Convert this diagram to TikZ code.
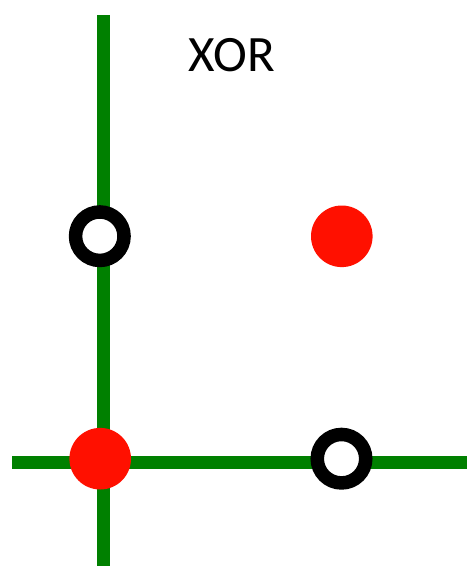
\documentclass[tikz,border=0pt]{standalone}
\usepackage{fontspec}
\setmainfont{Carlito}
\definecolor{axisgreen}{RGB}{0,128,0}
\definecolor{dotred}{RGB}{255,16,0}
\begin{document}
\begin{tikzpicture}[x=1pt,y=-1pt,
  axis/.style={draw=axisgreen,line width=13.5pt},
  falsept/.style={circle,draw=black,fill=white,line width=13.5pt,minimum size=48.5pt,inner sep=0pt},
  truept/.style={circle,fill=dotred,minimum size=61.6pt,inner sep=0pt}]
  \useasboundingbox (0,0) rectangle (467,566);
  % axes
  \coordinate (ytop) at (103.5,15);
  \coordinate (ybot) at (103.5,566);
  \coordinate (xleft) at (12,462.5);
  \coordinate (xright) at (467,462.5);
  \draw[axis] (ytop) -- (ybot);
  \draw[axis] (xleft) -- (xright);
  % inputs of XOR
  \node[falsept] (p01) at (99.8,236.2) {};
  \node[truept]  (p11) at (341.8,236.3) {};
  \node[truept]  (p00) at (100.2,458.7) {};
  \node[falsept] (p10) at (341.5,458.7) {};
  % title
  \node[anchor=base,inner sep=0pt,font=\fontsize{51}{58}\selectfont] (title) at (232,71.7) {XOR};
\end{tikzpicture}
\end{document}
